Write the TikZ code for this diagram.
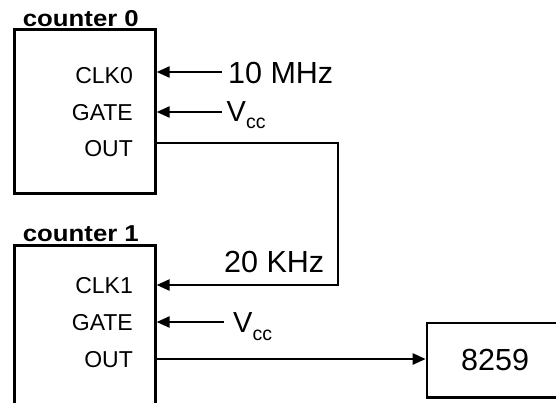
\documentclass[tikz,border=0pt]{standalone}
\usepackage{fontspec}
\setmainfont{Liberation Sans}
\usepackage{graphicx}
\usetikzlibrary{arrows.meta}
\begin{document}
\begin{tikzpicture}[x=1pt,y=-1pt,
  box/.style={draw, line width=2.6pt, inner sep=0pt},
  wire/.style={line width=2.4pt},
  arr/.style={wire, -{Triangle[length=13pt,width=11pt]}},
  lbl/.style={inner sep=0pt, anchor=base east, font=\fontsize{23}{23}\selectfont},
  big/.style={inner sep=0pt, anchor=base west, font=\fontsize{30.5}{30.5}\selectfont},
  vcc/.style={inner sep=0pt, anchor=base west, font=\fontsize{29}{29}\selectfont},
  ttl/.style={inner sep=0pt, anchor=base west, font=\fontsize{23}{23}\selectfont\bfseries},
]
\useasboundingbox (0,0) rectangle (556,402);
\clip (0,0) rectangle (556,402);
% boxes
\node[box, anchor=north west, minimum width=140.7pt, minimum height=164pt] (box0) at (13.3,28.3) {};
\node[box, anchor=north west, minimum width=140.7pt, minimum height=200pt] (box1) at (13.3,244) {};
\node[box, anchor=north west, minimum width=136.3pt, minimum height=74.3pt,
      font=\fontsize{30.5}{30.5}\selectfont] (box2) at (425.7,321.7) {8259};
% titles
\node[ttl] (t0) at (22.7,26.7) {\scalebox{1.12}[1]{counter 0}};
\node[ttl] (t1) at (22.7,241.7) {\scalebox{1.12}[1]{counter 1}};
% port labels
\node[lbl] (clk0) at (133,83) {CLK0};
\node[lbl] (gate0) at (133,120) {GATE};
\node[lbl] (out0) at (133,156) {OUT};
\node[lbl] (clk1) at (133,293.5) {CLK1};
\node[lbl] (gate1) at (133,330.5) {GATE};
\node[lbl] (out1) at (133,367.5) {OUT};
% signal labels
\node[big] (f10) at (228,83) {10 MHz};
\node[big] (f20) at (224,272.7) {20 KHz};
\node[vcc] (v0) at (226.5,121.7) {V\raisebox{-6.5pt}{\fontsize{19.5}{19.5}\selectfont cc}};
\node[vcc] (v1) at (233,332) {V\raisebox{-8pt}{\fontsize{19.5}{19.5}\selectfont cc}};
% connector points
\coordinate (s10) at (222,72);
\coordinate (g0s) at (222,112);
\coordinate (o0s) at (154,143);
\coordinate (b1) at (338,143);
\coordinate (b2) at (338,285);
\coordinate (g1s) at (224,322);
\coordinate (o1s) at (154,359);
% connectors
\draw[arr] (s10) -- (s10 -| box0.east);
\draw[arr] (g0s) -- (g0s -| box0.east);
\draw[arr] (o0s) -- (b1) -- (b2) -- (b2 -| box1.east);
\draw[arr] (g1s) -- (g1s -| box1.east);
\draw[arr] (o1s) -- (o1s -| box2.west);
\end{tikzpicture}
\end{document}
